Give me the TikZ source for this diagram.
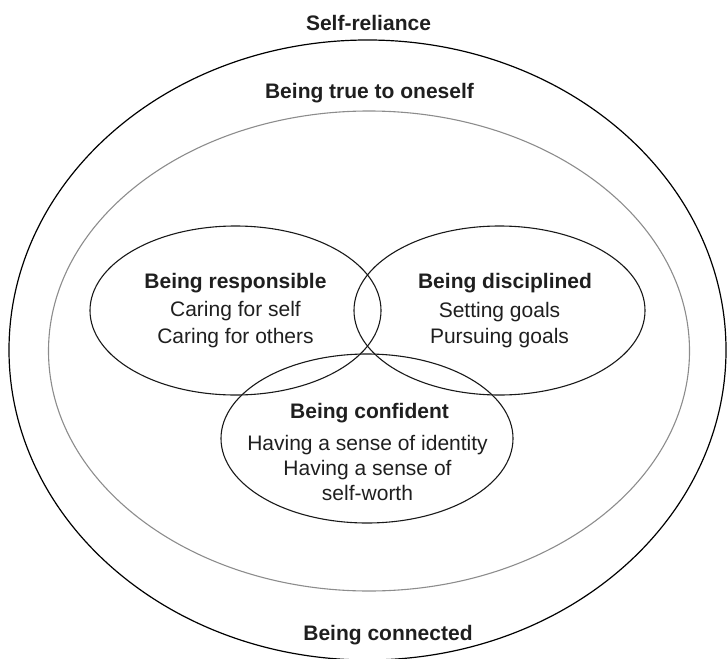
\documentclass[tikz,border=0pt]{standalone}
\usepackage{fontspec}
\setmainfont{Liberation Sans}
\begin{document}
\begin{tikzpicture}[x=1pt,y=-1pt,
  outerring/.style={draw=black,line width=1.2pt},
  innerring/.style={draw=black!45,line width=1.1pt},
  petal/.style={draw=black!90,line width=1.1pt},
  heading/.style={font=\fontsize{21}{25}\selectfont\bfseries,text=black!88,anchor=base,inner sep=0pt},
  body/.style={font=\fontsize{21}{25}\selectfont,text=black!88,anchor=base,inner sep=0pt}]
\useasboundingbox (0,0) rectangle (727,658);

% rings
\draw[outerring] (367.5,350) ellipse [x radius=358.5, y radius=310];
\draw[innerring] (369,351) ellipse [x radius=320.5, y radius=240];

% three overlapping qualities
\draw[petal] (235.5,310.5) ellipse [x radius=145.5, y radius=84.5];
\draw[petal] (499.5,310.5) ellipse [x radius=145.5, y radius=84.5];
\draw[petal] (367,438.5) ellipse [x radius=146, y radius=84.5];

% ring labels
\node[heading] (selfreliance) at (368.5,31) {Self-reliance};
\node[heading] (trueself) at (369.5,99) {Being true to oneself};
\node[heading] (connected) at (388,640) {Being connected};

% responsible
\node[heading] (resp) at (235.5,288) {Being responsible};
\node[body] (resp1) at (235.5,316) {Caring for self};
\node[body] (resp2) at (235.5,343) {Caring for others};

% disciplined
\node[heading] (disc) at (505,288) {Being disciplined};
\node[body] (disc1) at (499.5,317) {Setting goals};
\node[body] (disc2) at (499.5,343) {Pursuing goals};

% confident
\node[heading] (conf) at (369.5,418) {Being confident};
\node[body] (conf1) at (367.5,450) {Having a sense of identity};
\node[body] (conf2) at (367.5,475) {Having a sense of};
\node[body] (conf3) at (367.5,500) {self-worth};
\end{tikzpicture}
\end{document}
